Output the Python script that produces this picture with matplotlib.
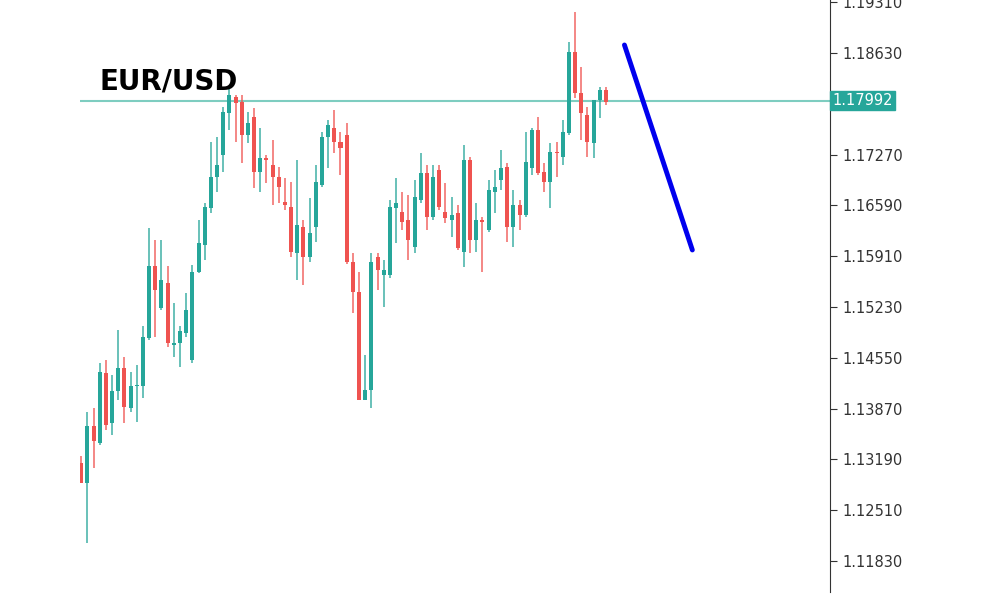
import numpy as np
import matplotlib.pyplot as plt

# EUR/USD candles (open, high, low, close)
opens = [1.13140, 1.12872, 1.13631, 1.13408, 1.14344, 1.13675, 1.14099, 1.14411, 1.13876, 1.14166,
         1.14166, 1.14813, 1.15773, 1.15214, 1.15548, 1.14723, 1.14746, 1.14880, 1.14523, 1.15705,
         1.16061, 1.16552, 1.16975, 1.17265, 1.17823, 1.18046, 1.17979, 1.17533, 1.17778, 1.17042,
         1.17221, 1.17132, 1.16975, 1.16641, 1.16574, 1.15950, 1.16307, 1.15905, 1.16307, 1.16864,
         1.17511, 1.17622, 1.17444, 1.17533, 1.15838, 1.15436, 1.13987, 1.14121, 1.15905, 1.15659,
         1.15659, 1.16552, 1.16507, 1.16395, 1.16038, 1.16663, 1.17020, 1.16440, 1.17064, 1.16507,
         1.16395, 1.16485, 1.15971, 1.17198, 1.16128, 1.16395, 1.16262, 1.16775, 1.16931, 1.17109,
         1.16306, 1.16596, 1.16462, 1.17087, 1.17600, 1.17042, 1.16909, 1.17309, 1.17242, 1.17554,
         1.18646, 1.18089, 1.17800, 1.17421, 1.18001, 1.18134]
closes = [1.12872, 1.13631, 1.13430, 1.14366, 1.13653, 1.14099, 1.14411, 1.13898, 1.14166, 1.14188,
          1.14835, 1.15773, 1.15459, 1.15593, 1.14746, 1.14746, 1.14902, 1.15192, 1.15705, 1.16084,
          1.16574, 1.16975, 1.17132, 1.17845, 1.18068, 1.17957, 1.17533, 1.17689, 1.17042, 1.17221,
          1.17199, 1.16975, 1.16842, 1.16597, 1.15972, 1.16329, 1.15905, 1.16217, 1.16909, 1.17511,
          1.17667, 1.17444, 1.17355, 1.15838, 1.15436, 1.13987, 1.14121, 1.15838, 1.15726, 1.15726,
          1.16574, 1.16618, 1.16373, 1.16128, 1.16708, 1.17020, 1.16440, 1.16975, 1.16574, 1.16418,
          1.16462, 1.16016, 1.17198, 1.16128, 1.16395, 1.16373, 1.16797, 1.16842, 1.17087, 1.16306,
          1.16596, 1.16462, 1.17176, 1.17600, 1.17020, 1.16909, 1.17309, 1.17287, 1.17577, 1.18646,
          1.18089, 1.17822, 1.17443, 1.18001, 1.18134, 1.17978]
highs = [1.13229, 1.13831, 1.13876, 1.14478, 1.14523, 1.14322, 1.14924, 1.14567, 1.14366, 1.14456,
         1.14969, 1.16286, 1.16128, 1.16128, 1.15773, 1.15281, 1.14969, 1.15415, 1.15794, 1.16396,
         1.16619, 1.17444, 1.17511, 1.17912, 1.18180, 1.18068, 1.18068, 1.17845, 1.17890, 1.17622,
         1.17265, 1.17466, 1.17109, 1.16953, 1.16909, 1.17199, 1.16396, 1.16686, 1.17132, 1.17578,
         1.17734, 1.17868, 1.17578, 1.17689, 1.15949, 1.15704, 1.14589, 1.15949, 1.15949, 1.15860,
         1.16663, 1.16953, 1.16775, 1.16730, 1.16931, 1.17287, 1.17131, 1.17131, 1.17131, 1.16886,
         1.16708, 1.16596, 1.17398, 1.17243, 1.16618, 1.16440, 1.16931, 1.17064, 1.17332, 1.17154,
         1.16797, 1.16663, 1.17577, 1.17622, 1.17778, 1.17154, 1.17421, 1.17443, 1.17733, 1.18781,
         1.19183, 1.18447, 1.17911, 1.18001, 1.18179, 1.18179]
lows = [1.12872, 1.12070, 1.13073, 1.13385, 1.13586, 1.13519, 1.13987, 1.13675, 1.13831, 1.13697,
        1.14010, 1.14790, 1.14835, 1.15192, 1.14701, 1.14567, 1.14433, 1.14835, 1.14478, 1.15682,
        1.15861, 1.16485, 1.16775, 1.17042, 1.17600, 1.17444, 1.17154, 1.17422, 1.16819, 1.16775,
        1.16886, 1.16597, 1.16619, 1.16530, 1.15905, 1.15593, 1.15526, 1.15838, 1.16106, 1.16842,
        1.17087, 1.17288, 1.16998, 1.15800, 1.15147, 1.13987, 1.13987, 1.13875, 1.15459, 1.15236,
        1.15615, 1.16083, 1.16262, 1.15860, 1.15949, 1.16618, 1.16262, 1.16395, 1.16529, 1.16351,
        1.16172, 1.15994, 1.15770, 1.15949, 1.15971, 1.15704, 1.16239, 1.16485, 1.16797, 1.16105,
        1.16038, 1.16262, 1.16440, 1.16997, 1.16997, 1.16775, 1.16551, 1.16975, 1.17131, 1.17532,
        1.18023, 1.17465, 1.17242, 1.17220, 1.17755, 1.17934]

last_price = 1.17992
arrow_x = [88, 99]
arrow_y = [1.18737, 1.15993]
y_ticks = [1.11830, 1.12510, 1.13190, 1.13870, 1.14550, 1.15230, 1.15910,
           1.16590, 1.17270, 1.18630, 1.19310]

green = '#26a69a'
red = '#ef5350'

fig = plt.figure(figsize=(10, 6), dpi=100)
ax = fig.add_axes([0.08, 0.0133, 0.75, 0.9867])

o = np.array(opens)
c = np.array(closes)
t = np.arange(len(o))
colors = [green if cc >= oo else red for oo, cc in zip(o, c)]

ax.vlines(t, lows, highs, colors=colors, linewidth=1.3, alpha=0.75)
body = np.maximum(np.abs(c - o), 0.00006)
ax.bar(t, body, bottom=np.minimum(o, c), width=0.65, color=colors)

ax.axhline(last_price, color='#7ecdc0', linewidth=1.5, zorder=0)
ax.plot(arrow_x, arrow_y, color='#0000ee', linewidth=3.5, solid_capstyle='round')

ax.set_xlim(-0.2, 121.3)
ax.set_ylim(1.11415, 1.19339)
ax.set_xticks([])
ax.set_yticks(y_ticks)
ax.yaxis.tick_right()
ax.tick_params(axis='y', direction='out', length=5, color='#333333',
               labelsize=10.5, labelcolor='#333333', pad=4)
ax.set_yticklabels([f'{v:.5f}' for v in y_ticks])
for s in ['top', 'left', 'bottom']:
    ax.spines[s].set_visible(False)
ax.spines['right'].set_color('#333333')

ax.text(1.003, last_price, f'{last_price:.5f}', transform=ax.get_yaxis_transform(),
        va='center', ha='left', color='white', fontsize=10.5,
        bbox=dict(boxstyle='square,pad=0.15', facecolor=green, edgecolor=green))

fig.text(0.099, 0.865, 'EUR/USD', fontsize=20, fontweight='bold',
         family=['DejaVu Sans'], color='black', va='center')

fig.savefig('out.png')
